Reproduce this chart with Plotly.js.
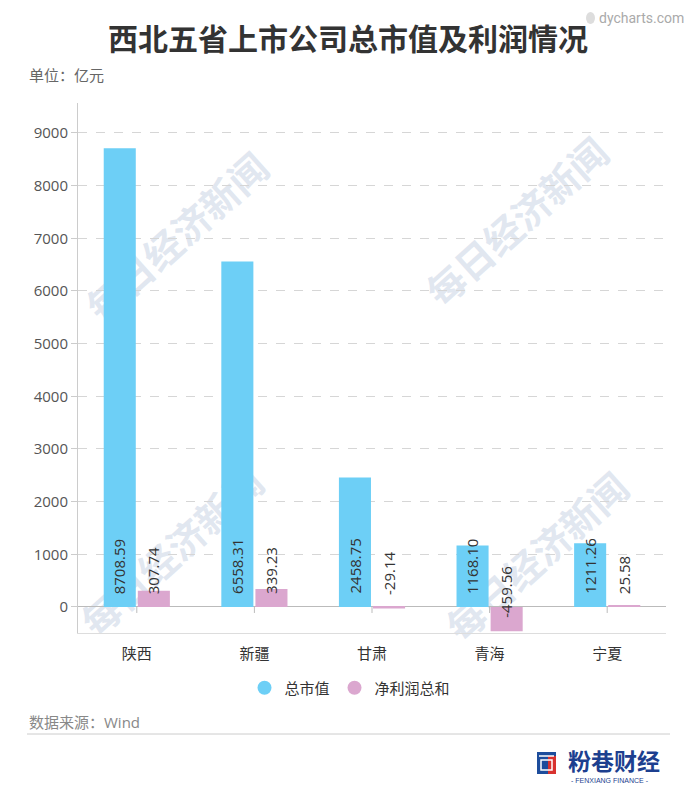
<!DOCTYPE html>
<html>
<head>
<meta charset="utf-8">
<script src="https://cdn.plot.ly/plotly-3.0.1.min.js"></script>
<style>
  body { margin: 0; background: #fff; }
  #graph { width: 696px; height: 791px; }
</style>
</head>
<body>
<div id="graph"></div>
<script>
// Chart data
const provinces = ['陕西', '新疆', '甘肃', '青海', '宁夏'];
const marketCap = [8708.59, 6558.31, 2458.75, 1168.10, 1211.26];
const netProfit = [307.74, 339.23, -29.14, -459.56, 25.58];
const seriesNames = ['总市值', '净利润总和'];
const yTicks = [0, 1000, 2000, 3000, 4000, 5000, 6000, 7000, 8000, 9000];

const blue = '#6dcff6';
const pink = '#dba7cf';
const font = 'Open Sans, Noto Sans CJK SC, sans-serif';

const W = 696, H = 791;
const m = { l: 78, r: 30, t: 103, b: 158 };
const pw = W - m.l - m.r, ph = H - m.t - m.b;
// helpers to place page elements by pixel position
const px = x => (x - m.l) / pw;
const py = y => (H - m.b - y) / ph;

// Bars
const traces = [
    {
        x: provinces, y: marketCap, type: 'bar', name: seriesNames[0],
        marker: { color: blue }, showlegend: false, hoverinfo: 'y'
    },
    {
        x: provinces, y: netProfit, type: 'bar', name: seriesNames[1],
        marker: { color: pink }, showlegend: false, hoverinfo: 'y'
    },
    // legend entries with round markers
    {
        x: [null], y: [null], type: 'scatter', mode: 'markers', name: seriesNames[0],
        marker: { color: blue, size: 14, symbol: 'circle' }
    },
    {
        x: [null], y: [null], type: 'scatter', mode: 'markers', name: seriesNames[1],
        marker: { color: pink, size: 14, symbol: 'circle' }
    }
];

// Value labels, rotated, sitting at the bottom of each bar
const annotations = [];
[marketCap, netProfit].forEach((vals, s) => {
    vals.forEach((v, i) => {
        annotations.push({
            x: provinces[i], y: Math.min(0, v), xref: 'x', yref: 'y',
            text: v.toFixed(2), textangle: -90, showarrow: false,
            xanchor: 'center', yanchor: 'bottom',
            xshift: s === 0 ? -17 : 17, yshift: 11,
            font: { family: font, size: 15, color: '#333' }
        });
    });
});

// page text placed by pixel
function note(text, x, y, size, color, xanchor, family) {
    annotations.push({
        text: text, x: px(x), y: py(y), xref: 'paper', yref: 'paper',
        xanchor: xanchor, yanchor: 'middle', showarrow: false,
        font: { family: family || font, size: size, color: color }
    });
}
note('<b>西北五省上市公司总市值及利润情况</b>', 348, 37, 30, '#333', 'center', 'Noto Sans CJK SC');
note('单位：亿元', 27, 75, 15, '#666', 'left');
note('数据来源：Wind', 27, 722, 15, '#888', 'left');
note('dycharts.com', 686, 18, 14, '#aaa', 'right', 'Roboto, sans-serif');
note('<b>粉巷财经</b>', 566, 760, 23, '#1d3f8f', 'left', 'Noto Sans CJK SC');
note('- FENXIANG FINANCE -', 569, 780, 7, '#1d3f8f', 'left', 'Liberation Sans');

// small ticks hanging under the zero line
const shapes = provinces.map(p => ({
    type: 'line', xref: 'x', yref: 'y', ysizemode: 'pixel', yanchor: 0,
    x0: p, x1: p, y0: 0, y1: -6, line: { color: '#bbb', width: 1 }
}));

// Watermarks behind the bars
const wm = [[180, 240], [520, 225], [175, 555], [540, 560]];
wm.forEach(p => {
    shapes.push({
        type: 'rect', xref: 'paper', yref: 'paper', layer: 'below',
        x0: px(p[0] - 20), x1: px(p[0] + 20), y0: py(p[1] + 20), y1: py(p[1] - 20),
        line: { width: 0 }, fillcolor: 'rgba(0,0,0,0)',
        label: {
            text: '<b>每日经济新闻</b>', textangle: -42, textposition: 'middle center',
            font: { family: 'Noto Sans CJK SC', size: 38, color: 'rgba(200,210,228,0.55)' }
        }
    });
});

shapes.push(
    // source underline
    { type: 'line', xref: 'paper', yref: 'paper', x0: px(27), x1: px(670), y0: py(734), y1: py(734),
      line: { color: '#ccc', width: 1 } },
    // logo icon
    { type: 'rect', xref: 'paper', yref: 'paper', x0: px(537), x1: px(556), y0: py(752), y1: py(774),
      fillcolor: '#1d4d9c', line: { width: 0 } },
    { type: 'rect', xref: 'paper', yref: 'paper', x0: px(548), x1: px(556), y0: py(756), y1: py(774),
      fillcolor: '#d8322f', line: { width: 0 } },
    { type: 'rect', xref: 'paper', yref: 'paper', x0: px(541), x1: px(552), y0: py(760), y1: py(770),
      fillcolor: 'rgba(0,0,0,0)', line: { color: '#fff', width: 1.5 } },
    { type: 'line', xref: 'paper', yref: 'paper', x0: px(539), x1: px(554), y0: py(756), y1: py(756),
      line: { color: '#fff', width: 1.5 } },
    // dycharts leaf
    { type: 'circle', xref: 'paper', yref: 'paper', x0: px(586), x1: px(595), y0: py(12), y1: py(24),
      fillcolor: '#ddd', line: { width: 0 } }
);

const layout = {
    width: W, height: H,
    margin: m,
    paper_bgcolor: '#fff', plot_bgcolor: '#fff',
    font: { family: font, color: '#555' },
    barmode: 'group', bargap: 0.42, bargroupgap: 0.06,
    showlegend: true,
    legend: {
        orientation: 'h', x: px(350), xanchor: 'center', y: py(688), yanchor: 'middle',
        font: { family: font, size: 15, color: '#333' }
    },
    xaxis: {
        type: 'category', showline: true, linecolor: '#ddd', linewidth: 1,
        ticks: '', showgrid: false, ticklabelstandoff: 7,
        tickfont: { family: font, size: 15, color: '#333' }
    },
    yaxis: {
        range: [-494, 9569], tickvals: yTicks, ticktext: yTicks.map(String),
        showline: true, linecolor: '#ccc', linewidth: 1,
        ticks: 'outside', ticklen: 6, tickcolor: '#ccc',
        showgrid: true, gridcolor: '#d6d6d6', griddash: 'dash',
        zeroline: true, zerolinecolor: '#bbb', zerolinewidth: 1,
        tickfont: { family: font, size: 15, color: '#555' }
    },
    annotations: annotations,
    shapes: shapes
};

Plotly.newPlot('graph', traces, layout, { displayModeBar: false });
</script>
</body>
</html>
